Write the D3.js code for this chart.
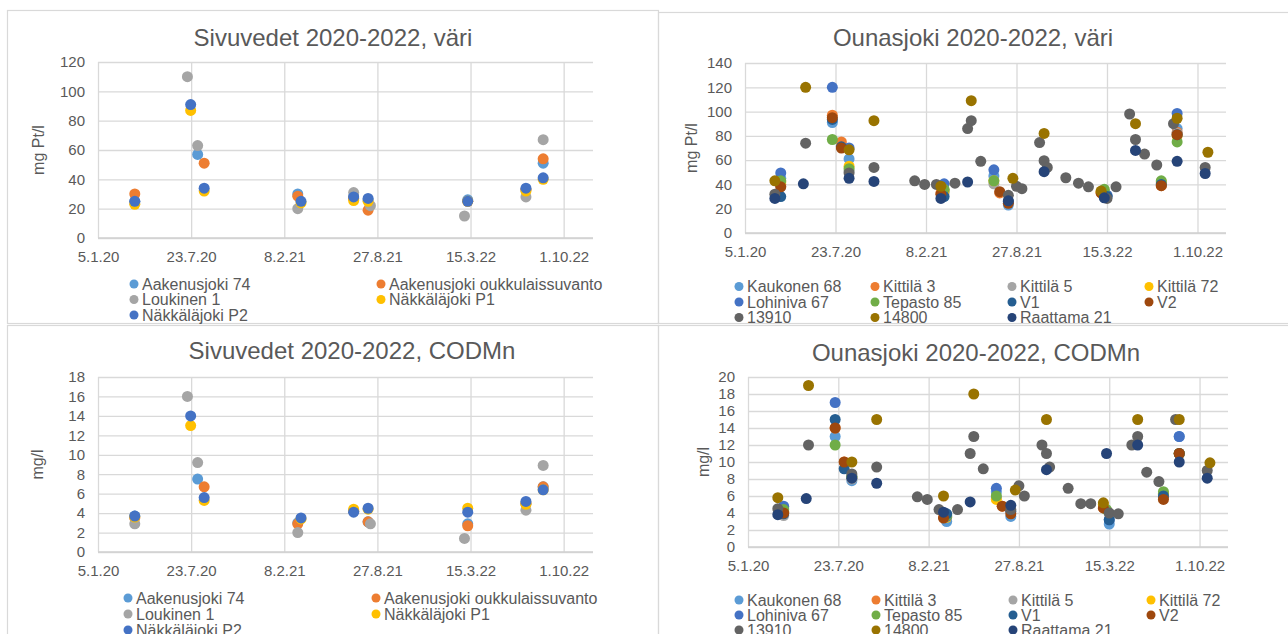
<!DOCTYPE html>
<html lang="fi">
<head>
    <meta charset="utf-8" />
    <title>Sivuvedet ja Ounasjoki 2020-2022, väri ja CODMn</title>
    <script src="https://d3js.org/d3.v7.min.js"></script>
    <style>
        body {
            margin: 0;
            padding: 0;
            background: #ffffff;
            font-family: "Liberation Sans", Arial, sans-serif;
        }
        svg text {
            fill: #595959;
        }
    </style>
</head>
<body>
<svg id="chart"></svg>
<script>
    var w = 1288;
    var h = 634;

    // x axis: ticks every 200 days, axis runs a bit past the last tick
    var xTickLabels = ["5.1.20", "23.7.20", "8.2.21", "27.8.21", "15.3.22", "1.10.22"];
    var xAxisEnd = "3.12.22";

    var sivuVariTicks = [0, 20, 40, 60, 80, 100, 120];
    var sivuCodTicks = [0, 2, 4, 6, 8, 10, 12, 14, 16, 18];
    var ounasVariTicks = [0, 20, 40, 60, 80, 100, 120, 140];
    var ounasCodTicks = [0, 2, 4, 6, 8, 10, 12, 14, 16, 18, 20];

    // rows: [date, väri mg Pt/l, CODMn mg/l]
    var aakenusjoki74 = [
        ["24.3.20", 25, 3.7], ["6.8.20", 57, 7.5], ["9.3.21", 30, 3.0], ["7.7.21", 28, 4.2],
        ["7.8.21", 26, 3.1], ["9.3.22", 26, 2.9], ["12.7.22", 33, 5.0], ["18.8.22", 51, 6.7]
    ];
    var aakenusjokiOukkulaissuvanto = [
        ["24.3.20", 30, 3.5], ["20.8.20", 51, 6.7], ["9.3.21", 28.5, 2.9], ["7.7.21", 27, 4.2],
        ["7.8.21", 19, 3.1], ["9.3.22", 25, 2.7], ["12.7.22", 33, 5.0], ["18.8.22", 54, 6.7]
    ];
    var loukinen1 = [
        ["24.3.20", 24, 2.9], ["15.7.20", 110, 16], ["6.8.20", 63, 9.2], ["9.3.21", 20, 2.0],
        ["7.7.21", 31, 4.2], ["12.8.21", 22, 2.9], ["2.3.22", 15, 1.4], ["12.7.22", 28, 4.3],
        ["18.8.22", 67, 8.9]
    ];
    var nakkalajokiP1 = [
        ["24.3.20", 23, 3.6], ["22.7.20", 87, 13], ["20.8.20", 32, 5.3], ["16.3.21", 24, 3.4],
        ["7.7.21", 25.5, 4.4], ["7.8.21", 25, 4.4], ["9.3.22", 25, 4.5], ["12.7.22", 32, 4.9],
        ["18.8.22", 40, 6.4]
    ];
    var nakkalajokiP2 = [
        ["24.3.20", 25, 3.7], ["22.7.20", 91, 14], ["20.8.20", 34, 5.6], ["16.3.21", 25, 3.5],
        ["7.7.21", 28, 4.1], ["7.8.21", 27, 4.5], ["9.3.22", 25, 4.1], ["12.7.22", 34, 5.2],
        ["18.8.22", 41, 6.4]
    ];

    var kaukonen68 = [
        ["24.3.20", 45, 4.6], ["16.7.20", 91, 13], ["22.8.20", 61, 7.8], ["20.3.21", 34.5, 3.0],
        ["8.7.21", 47, 6.5], ["9.8.21", 23, 3.6], ["15.3.22", 30, 2.7], ["17.8.22", 86, 13]
    ];
    var kittila3 = [
        ["24.3.20", 40, 4.1], ["16.7.20", 97, 14], ["5.8.20", 75, 10], ["13.3.21", 33, 3.5],
        ["21.7.21", 33, 4.8], ["2.3.22", 33, 4.6], ["13.7.22", 39, 5.8], ["17.8.22", 83, 11]
    ];
    var kittila5 = [
        ["24.3.20", 38, 3.7], ["22.8.20", 51, 8.0], ["20.3.21", 33, 3.8], ["8.7.21", 40.5, 5.8],
        ["15.3.22", 31, 3.9], ["13.7.22", 41, 6.2], ["17.8.22", 82, 11]
    ];
    var kittila72 = [
        ["24.3.20", 42, 4.2], ["22.8.20", 55, 8.2], ["20.3.21", 35, 3.5], ["8.7.21", 43, 5.6],
        ["2.3.22", 34, 5.0], ["13.7.22", 42, 6.3], ["17.8.22", 80, 11]
    ];
    var lohiniva67 = [
        ["24.3.20", 49.5, 4.8], ["16.7.20", 120, 17], ["22.8.20", 70, 8.3], ["20.3.21", 40.5, 3.6],
        ["8.7.21", 52, 6.9], ["15.3.22", 31, 3.2], ["17.8.22", 98.5, 13]
    ];
    var tepasto85 = [
        ["24.3.20", 43, 4.4], ["16.7.20", 77, 12], ["22.8.20", 53, 8.3], ["20.3.21", 36, 3.7],
        ["8.7.21", 43, 6.0], ["9.3.22", 36, 4.4], ["13.7.22", 43, 6.5], ["17.8.22", 75, 11]
    ];
    var v1 = [
        ["24.3.20", 30, 3.9], ["16.7.20", 93.5, 15], ["5.8.20", 71, 9.2], ["20.3.21", 30, 3.9],
        ["9.8.21", 26, 4.2], ["15.3.22", 30, 3.2], ["13.7.22", 40, 6.0], ["17.8.22", 81, 11]
    ];
    var v2 = [
        ["24.3.20", 38, 4.0], ["16.7.20", 95, 14], ["5.8.20", 70, 10], ["13.3.21", 32, 3.4],
        ["21.7.21", 34, 4.8], ["9.8.21", 24.5, 3.9], ["2.3.22", 33, 4.6], ["13.7.22", 39, 5.6],
        ["17.8.22", 81, 11]
    ];
    var s13910 = [
        ["11.3.20", 32, 4.5], ["18.5.20", 74, 12], ["22.8.20", 49.5, 8.6], ["16.10.20", 54, 9.4],
        ["14.1.21", 43, 5.9], ["5.2.21", 40, 5.6], ["3.3.21", 40, 4.4], ["13.4.21", 41, 4.4],
        ["11.5.21", 86, 11], ["19.5.21", 92.5, 13], ["9.6.21", 59, 9.2], ["9.8.21", 31, 4.4],
        ["27.8.21", 38.5, 7.2], ["8.9.21", 36.5, 6.0], ["17.10.21", 74.5, 12], ["27.10.21", 59.5, 11],
        ["3.11.21", 54, 9.4], ["14.12.21", 45.5, 6.9], ["11.1.22", 41, 5.1], ["2.2.22", 38, 5.1],
        ["15.3.22", 28.5, 4.0], ["4.4.22", 38, 3.9], ["4.5.22", 98, 12], ["17.5.22", 77, 13],
        ["6.6.22", 65, 8.8], ["3.7.22", 56, 7.7], ["9.8.22", 90, 15], ["18.10.22", 54, 9.0]
    ];
    var s14800 = [
        ["11.3.20", 43, 5.8], ["18.5.20", 120, 19], ["22.8.20", 68.5, 10], ["16.10.20", 92.5, 15],
        ["13.3.21", 38.5, 6.0], ["19.5.21", 109, 18], ["19.8.21", 45, 6.7], ["27.10.21", 82, 15],
        ["2.3.22", 34.5, 5.2], ["17.5.22", 90, 15], ["17.8.22", 94.5, 15], ["24.10.22", 66.5, 9.9]
    ];
    var raattama21 = [
        ["11.3.20", 28.5, 3.8], ["13.5.20", 40.5, 5.7], ["22.8.20", 45, 8.1], ["16.10.20", 42.5, 7.5],
        ["13.3.21", 28.5, 4.1], ["11.5.21", 42, 5.3], ["9.8.21", 26.5, 4.9], ["27.10.21", 50.5, 9.1],
        ["9.3.22", 29, 11], ["17.5.22", 68, 12], ["17.8.22", 59, 10], ["18.10.22", 49, 8.1]
    ];

    var sivuSeries = [
        {name: "Aakenusjoki 74", color: "#5B9BD5", rows: aakenusjoki74},
        {name: "Aakenusjoki oukkulaissuvanto", color: "#ED7D31", rows: aakenusjokiOukkulaissuvanto},
        {name: "Loukinen 1", color: "#A5A5A5", rows: loukinen1},
        {name: "Näkkäläjoki P1", color: "#FFC000", rows: nakkalajokiP1},
        {name: "Näkkäläjoki P2", color: "#4472C4", rows: nakkalajokiP2}
    ];
    var ounasSeries = [
        {name: "Kaukonen 68", color: "#5B9BD5", rows: kaukonen68},
        {name: "Kittilä 3", color: "#ED7D31", rows: kittila3},
        {name: "Kittilä 5", color: "#A5A5A5", rows: kittila5},
        {name: "Kittilä 72", color: "#FFC000", rows: kittila72},
        {name: "Lohiniva 67", color: "#4472C4", rows: lohiniva67},
        {name: "Tepasto 85", color: "#70AD47", rows: tepasto85},
        {name: "V1", color: "#255E91", rows: v1},
        {name: "V2", color: "#9E480E", rows: v2},
        {name: "13910", color: "#636363", rows: s13910},
        {name: "14800", color: "#997300", rows: s14800},
        {name: "Raattama 21", color: "#264478", rows: raattama21}
    ];

    var parseDate = d3.timeParse("%d.%m.%y");

    var panels = [
        {title: "Sivuvedet 2020-2022, väri", series: sivuSeries, col: 1, yTicks: sivuVariTicks, yLabel: "mg Pt/l",
         frame: [7.5, 10.5, 651, 313], plot: [98, 62, 593, 238], titleX: 333, titleY: 38, yLabelX: 38,
         legendX: [134, 381], legendY: 284, legendDy: 15.5},
        {title: "Ounasjoki 2020-2022, väri", series: ounasSeries, col: 1, yTicks: ounasVariTicks, yLabel: "mg Pt/l",
         frame: [658.5, 12.5, 640, 311], plot: [745, 63, 1226, 233], titleX: 973, titleY: 38, yLabelX: 691,
         legendX: [739, 875, 1012, 1149], legendY: 286.5, legendDy: 15.5},
        {title: "Sivuvedet 2020-2022, CODMn", series: sivuSeries, col: 2, yTicks: sivuCodTicks, yLabel: "mg/l",
         frame: [7.5, 325.5, 651, 330], plot: [98, 377, 593, 552], titleX: 352, titleY: 351, yLabelX: 37,
         legendX: [128, 376], legendY: 598, legendDy: 16},
        {title: "Ounasjoki 2020-2022, CODMn", series: ounasSeries, col: 2, yTicks: ounasCodTicks, yLabel: "mg/l",
         frame: [658.5, 325.5, 640, 330], plot: [748, 377, 1228, 547], titleX: 976, titleY: 353, yLabelX: 703,
         legendX: [739, 876, 1013, 1151], legendY: 600, legendDy: 15}
    ];

    var svg = d3.select("#chart")
        .attr("width", w)
        .attr("height", h);

    panels.forEach(function(p) {
        var g = svg.append("g");

        g.append("rect")
            .attr("x", p.frame[0])
            .attr("y", p.frame[1])
            .attr("width", p.frame[2])
            .attr("height", p.frame[3])
            .attr("fill", "none")
            .attr("stroke", "#d9d9d9")
            .attr("stroke-width", 1.2);

        var xScale = d3.scaleTime()
            .domain([parseDate(xTickLabels[0]), parseDate(xAxisEnd)])
            .range([p.plot[0], p.plot[2]]);

        var yScale = d3.scaleLinear()
            .domain([0, d3.max(p.yTicks)])
            .range([p.plot[3], p.plot[1]]);

        // horizontal gridlines + y labels
        var yAxis = d3.axisLeft(yScale)
            .tickValues(p.yTicks)
            .tickSize(-(p.plot[2] - p.plot[0]))
            .tickPadding(13)
            .tickFormat(d3.format("d"));

        g.append("g")
            .attr("transform", "translate(" + p.plot[0] + ",0)")
            .call(yAxis)
            .call(function(a) {
                a.select(".domain").remove();
                a.selectAll("line").attr("stroke", "#d9d9d9").attr("stroke-width", 1.3);
                a.selectAll("text")
                    .attr("font-size", "15px")
                    .attr("font-family", "Liberation Sans, Arial, sans-serif")
                    .style("fill", "#595959");
            });

        // vertical gridlines + date labels
        var xAxis = d3.axisBottom(xScale)
            .tickValues(xTickLabels.map(parseDate))
            .tickSize(-(p.plot[3] - p.plot[1]))
            .tickPadding(13)
            .tickFormat(function(d, i) { return xTickLabels[i]; });

        g.append("g")
            .attr("transform", "translate(0," + p.plot[3] + ")")
            .call(xAxis)
            .call(function(a) {
                a.select(".domain").remove();
                a.selectAll("line").attr("stroke", "#d9d9d9").attr("stroke-width", 1.3);
                a.selectAll("text")
                    .attr("font-size", "15px")
                    .attr("font-family", "Liberation Sans, Arial, sans-serif")
                    .style("fill", "#595959");
            });

        // axis line at zero
        g.append("line")
            .attr("x1", p.plot[0])
            .attr("x2", p.plot[2])
            .attr("y1", yScale(0))
            .attr("y2", yScale(0))
            .attr("stroke", "#d0d0d0")
            .attr("stroke-width", 1.6);

        g.append("text")
            .attr("x", p.titleX)
            .attr("y", p.titleY)
            .attr("dy", "0.35em")
            .attr("text-anchor", "middle")
            .attr("font-size", "24px")
            .text(p.title);

        g.append("text")
            .attr("transform", "translate(" + p.yLabelX + "," + ((p.plot[1] + p.plot[3]) / 2) + ") rotate(-90)")
            .attr("dy", "0.35em")
            .attr("text-anchor", "middle")
            .attr("font-size", "16px")
            .text(p.yLabel);

        // points, one series after another so later series sit on top
        p.series.forEach(function(s) {
            g.append("g")
                .selectAll("circle")
                .data(s.rows.filter(function(r) { return r[p.col] != null; }))
                .enter().append("circle")
                .attr("cx", function(d) { return xScale(parseDate(d[0])); })
                .attr("cy", function(d) { return yScale(d[p.col]); })
                .attr("r", 5.5)
                .attr("fill", s.color);
        });

        // legend, filled row by row
        var nCols = p.legendX.length;
        var legend = g.selectAll(".legend")
            .data(p.series)
            .enter().append("g")
            .attr("transform", function(d, i) {
                return "translate(" + p.legendX[i % nCols] + "," + (p.legendY + Math.floor(i / nCols) * p.legendDy) + ")";
            });

        legend.append("circle")
            .attr("r", 4.5)
            .attr("fill", function(d) { return d.color; });

        legend.append("text")
            .attr("x", 8)
            .attr("dy", "0.35em")
            .attr("font-size", "16px")
            .text(function(d) { return d.name; });
    });
</script>
</body>
</html>
